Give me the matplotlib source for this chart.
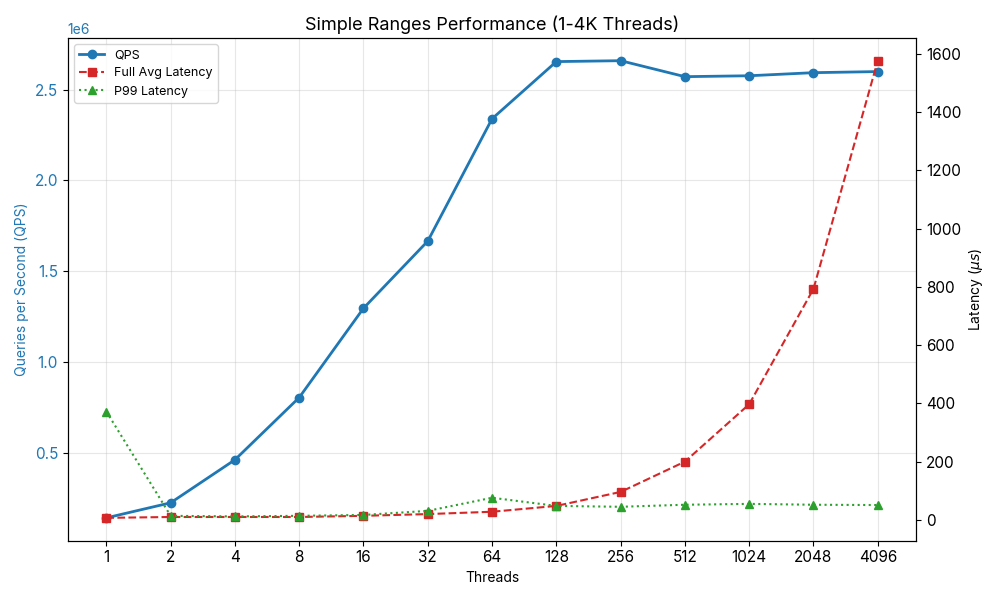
import numpy as np
import matplotlib.pyplot as plt

plt.rcParams['font.family'] = ['Inter', 'DejaVu Sans']

# 数据
threads = ['1', '2', '4', '8', '16', '32', '64', '128', '256', '512', '1024', '2048', '4096']
qps = [141000, 224000, 461000, 804000, 1296000, 1666000, 2340000,
       2655000, 2660000, 2572000, 2577000, 2594000, 2600000]
avg_latency = [7, 10, 10, 10, 14, 20, 28, 48, 96, 200, 397, 793, 1576]
p99_latency = [372, 14, 12, 14, 17, 31, 76, 48, 45, 52, 55, 52, 51]

x = np.arange(len(threads))

fig, ax1 = plt.subplots(figsize=(10, 6), dpi=100)
l1, = ax1.plot(x, qps, color='tab:blue', marker='o', linewidth=2, label='QPS')
ax1.set_xlabel('Threads')
ax1.set_ylabel('Queries per Second (QPS)', color='tab:blue')
ax1.tick_params(axis='y', labelcolor='tab:blue', labelsize=11)
ax1.tick_params(axis='x', labelsize=11)
ax1.set_xticks(x)
ax1.set_xticklabels(threads)
ax1.grid(True, alpha=0.3)

ax2 = ax1.twinx()
l2, = ax2.plot(x, avg_latency, color='tab:red', marker='s', linestyle='--',
               label='Full Avg Latency')
l3, = ax2.plot(x, p99_latency, color='tab:green', marker='^', linestyle=':',
               label='P99 Latency')
ax2.set_ylabel(r'Latency ($\mu s$)')
ax2.tick_params(axis='y', labelsize=11)

ax1.legend(handles=[l1, l2, l3], loc='upper left', fontsize=9)
plt.title('Simple Ranges Performance (1-4K Threads)', fontsize=13)
plt.tight_layout()
plt.savefig('out.png')
